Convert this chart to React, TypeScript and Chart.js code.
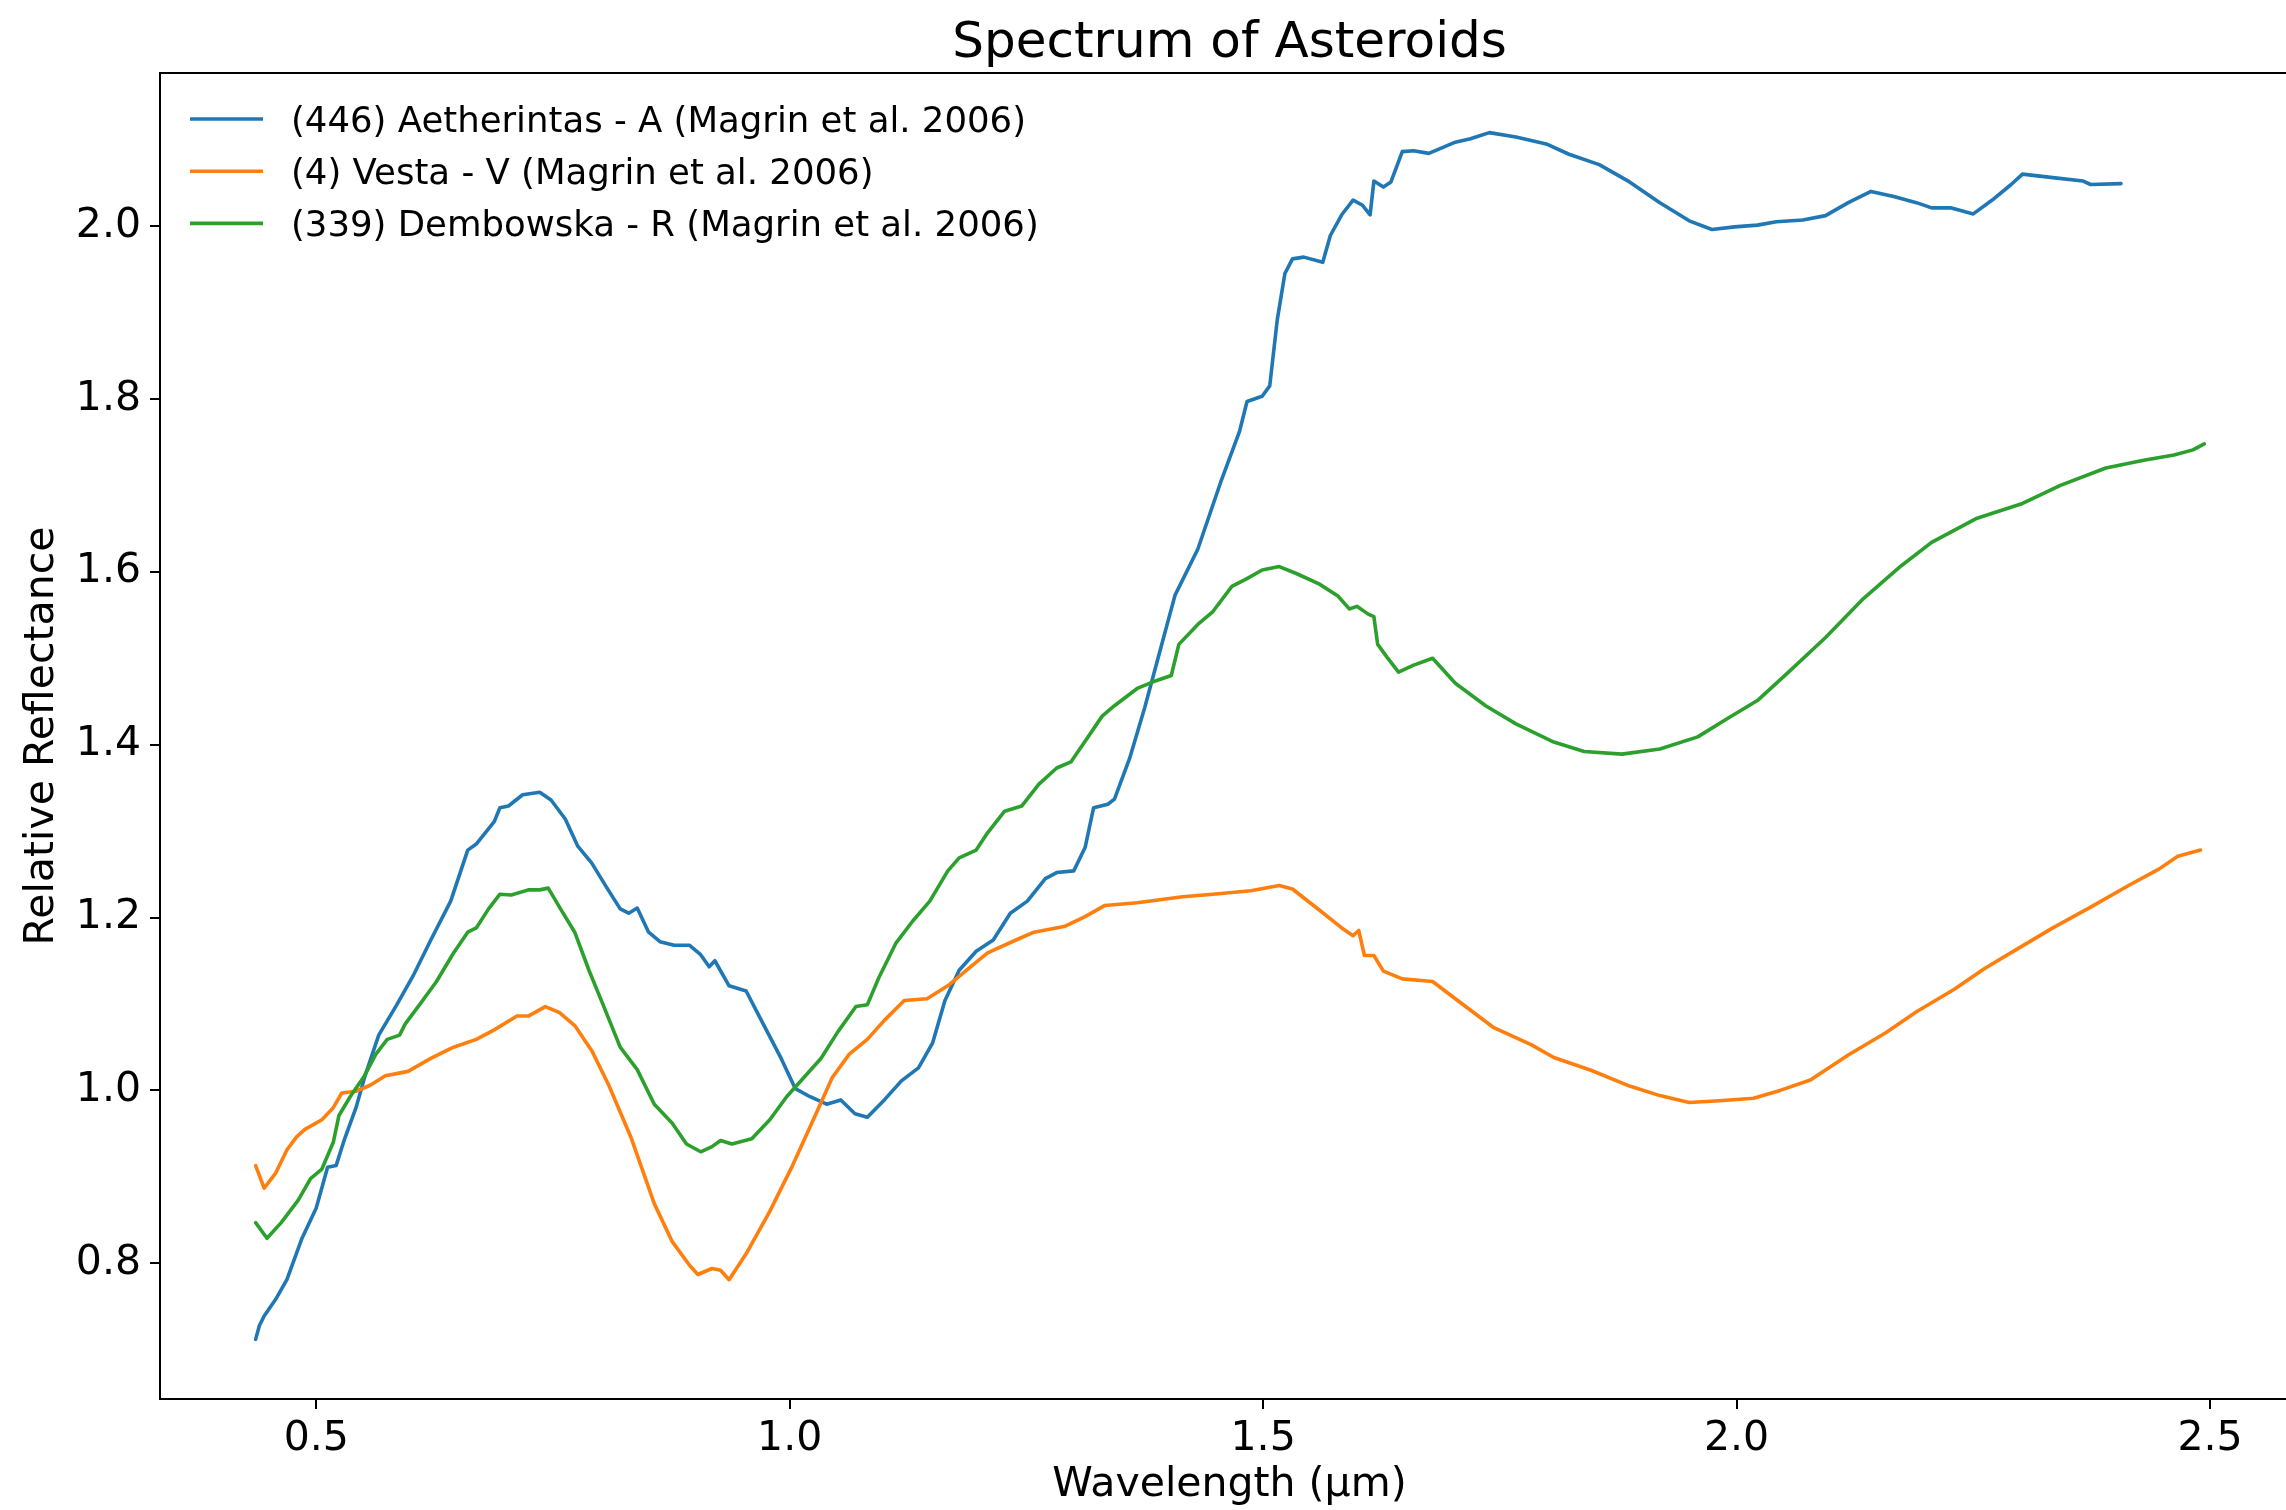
import React, { useEffect, useRef } from 'react';
import { Chart, registerables } from 'chart.js';

Chart.register(...registerables);

const FONT = "'DejaVu Sans', 'Liberation Sans', sans-serif";

const TITLE = 'Spectrum of Asteroids';
const X_LABEL = 'Wavelength (µm)';
const Y_LABEL = 'Relative Reflectance';

const xTicks = [0.5, 1.0, 1.5, 2.0, 2.5];
const yTicks = [0.8, 1.0, 1.2, 1.4, 1.6, 1.8, 2.0];

const seriesNames = [
  '(446) Aetherintas - A (Magrin et al. 2006)',
  '(4) Vesta - V (Magrin et al. 2006)',
  '(339) Dembowska - R (Magrin et al. 2006)',
];
const seriesColors = ['#1f77b4', '#ff7f0e', '#2ca02c'];

const aetherX = [
  0.436, 0.440, 0.445, 0.457, 0.469, 0.485, 0.500, 0.512, 0.521, 0.530, 0.542, 0.551, 0.566, 0.585, 0.603,
  0.621, 0.642, 0.660, 0.669, 0.688, 0.694, 0.703, 0.718, 0.736, 0.748, 0.763, 0.776, 0.791, 0.806, 0.821,
  0.830, 0.839, 0.851, 0.863, 0.878, 0.894, 0.906, 0.915, 0.921, 0.936, 0.954, 0.972, 0.991, 1.006, 1.021,
  1.039, 1.054, 1.069, 1.082, 1.100, 1.118, 1.136, 1.151, 1.164, 1.179, 1.197, 1.215, 1.233, 1.251, 1.270,
  1.282, 1.300, 1.312, 1.321, 1.336, 1.343, 1.359, 1.375, 1.391, 1.407, 1.431, 1.455, 1.475, 1.483, 1.499,
  1.507, 1.515, 1.523, 1.531, 1.543, 1.563, 1.571, 1.583, 1.595, 1.605, 1.613, 1.617, 1.627, 1.635, 1.647,
  1.659, 1.675, 1.703, 1.719, 1.739, 1.767, 1.799, 1.823, 1.855, 1.887, 1.919, 1.950, 1.974, 1.998, 2.022,
  2.042, 2.070, 2.094, 2.118, 2.142, 2.166, 2.190, 2.206, 2.226, 2.250, 2.270, 2.290, 2.302, 2.318, 2.334,
  2.366, 2.374, 2.406,
];
const aetherY = [
  0.712, 0.728, 0.739, 0.758, 0.781, 0.829, 0.864, 0.911, 0.913, 0.944, 0.980, 1.015, 1.064, 1.099, 1.134,
  1.174, 1.219, 1.278, 1.285, 1.311, 1.327, 1.329, 1.342, 1.345, 1.336, 1.314, 1.283, 1.263, 1.236, 1.210,
  1.205, 1.211, 1.183, 1.172, 1.168, 1.168, 1.157, 1.143, 1.150, 1.121, 1.115, 1.077, 1.037, 1.002, 0.993,
  0.984, 0.989, 0.973, 0.969, 0.989, 1.011, 1.026, 1.055, 1.104, 1.139, 1.161, 1.174, 1.205, 1.219, 1.245,
  1.252, 1.254, 1.281, 1.327, 1.331, 1.337, 1.384, 1.443, 1.508, 1.573, 1.626, 1.703, 1.762, 1.797, 1.803,
  1.815, 1.892, 1.945, 1.962, 1.964, 1.958, 1.989, 2.013, 2.030, 2.024, 2.013, 2.052, 2.045, 2.051, 2.086,
  2.087, 2.084, 2.097, 2.101, 2.108, 2.103, 2.095, 2.083, 2.071, 2.051, 2.027, 2.006, 1.996, 1.999, 2.001,
  2.005, 2.007, 2.012, 2.027, 2.040, 2.034, 2.027, 2.021, 2.021, 2.014, 2.030, 2.048, 2.060, 2.058, 2.056,
  2.052, 2.048, 2.049,
];

const vestaX = [
  0.436, 0.445, 0.457, 0.469, 0.479, 0.488, 0.506, 0.518, 0.527, 0.542, 0.557, 0.573, 0.597, 0.621, 0.645,
  0.669, 0.688, 0.712, 0.724, 0.742, 0.757, 0.773, 0.791, 0.809, 0.833, 0.857, 0.876, 0.894, 0.903, 0.918,
  0.927, 0.936, 0.954, 0.979, 1.003, 1.027, 1.045, 1.063, 1.082, 1.100, 1.121, 1.145, 1.167, 1.191, 1.209,
  1.239, 1.258, 1.291, 1.312, 1.333, 1.367, 1.415, 1.447, 1.487, 1.517, 1.531, 1.559, 1.583, 1.595, 1.601,
  1.607, 1.617, 1.627, 1.647, 1.679, 1.703, 1.743, 1.783, 1.807, 1.847, 1.887, 1.919, 1.950, 1.982, 2.018,
  2.046, 2.078, 2.118, 2.158, 2.190, 2.230, 2.262, 2.294, 2.334, 2.374, 2.414, 2.446, 2.466, 2.490,
];
const vestaY = [
  0.913, 0.887, 0.904, 0.931, 0.946, 0.955, 0.966, 0.980, 0.997, 0.999, 1.006, 1.017, 1.022, 1.037, 1.050,
  1.059, 1.070, 1.086, 1.086, 1.097, 1.090, 1.075, 1.046, 1.006, 0.944, 0.869, 0.825, 0.798, 0.787, 0.794,
  0.792, 0.781, 0.811, 0.860, 0.913, 0.971, 1.015, 1.042, 1.059, 1.081, 1.104, 1.106, 1.121, 1.143, 1.159,
  1.174, 1.183, 1.190, 1.201, 1.214, 1.217, 1.224, 1.227, 1.231, 1.237, 1.233, 1.209, 1.188, 1.179, 1.185,
  1.156, 1.156, 1.138, 1.129, 1.126, 1.106, 1.073, 1.053, 1.038, 1.023, 1.005, 0.994, 0.986, 0.988, 0.991,
  1.000, 1.012, 1.041, 1.067, 1.091, 1.117, 1.141, 1.162, 1.188, 1.212, 1.237, 1.256, 1.271, 1.278,
];

const dembowskaX = [
  0.436, 0.448, 0.463, 0.481, 0.494, 0.506, 0.518, 0.524, 0.536, 0.551, 0.563, 0.575, 0.588, 0.594, 0.609,
  0.627, 0.645, 0.660, 0.669, 0.682, 0.694, 0.706, 0.724, 0.736, 0.745, 0.758, 0.773, 0.788, 0.803, 0.821,
  0.839, 0.857, 0.876, 0.891, 0.906, 0.918, 0.927, 0.939, 0.960, 0.979, 0.997, 1.015, 1.033, 1.051, 1.070,
  1.082, 1.094, 1.112, 1.130, 1.148, 1.167, 1.179, 1.197, 1.209, 1.227, 1.245, 1.263, 1.282, 1.297, 1.312,
  1.330, 1.343, 1.367, 1.387, 1.403, 1.411, 1.431, 1.447, 1.467, 1.483, 1.499, 1.517, 1.535, 1.559, 1.579,
  1.591, 1.599, 1.611, 1.617, 1.621, 1.631, 1.643, 1.659, 1.679, 1.703, 1.735, 1.767, 1.807, 1.839, 1.879,
  1.919, 1.959, 1.990, 2.022, 2.054, 2.094, 2.134, 2.174, 2.206, 2.254, 2.302, 2.342, 2.390, 2.430, 2.462,
  2.482, 2.494,
];
const dembowskaY = [
  0.847, 0.829, 0.847, 0.873, 0.898, 0.909, 0.940, 0.971, 0.993, 1.017, 1.042, 1.059, 1.064, 1.077, 1.099,
  1.126, 1.159, 1.183, 1.188, 1.210, 1.227, 1.226, 1.232, 1.232, 1.234, 1.210, 1.183, 1.139, 1.099, 1.050,
  1.024, 0.984, 0.962, 0.938, 0.929, 0.935, 0.942, 0.938, 0.944, 0.966, 0.993, 1.015, 1.037, 1.068, 1.097,
  1.099, 1.130, 1.170, 1.196, 1.219, 1.254, 1.269, 1.278, 1.298, 1.323, 1.329, 1.354, 1.373, 1.380, 1.404,
  1.433, 1.445, 1.465, 1.474, 1.480, 1.516, 1.539, 1.554, 1.583, 1.592, 1.602, 1.606, 1.598, 1.586, 1.572,
  1.557, 1.560, 1.551, 1.548, 1.516, 1.501, 1.484, 1.492, 1.500, 1.471, 1.445, 1.424, 1.403, 1.392, 1.389,
  1.395, 1.409, 1.430, 1.451, 1.483, 1.524, 1.569, 1.607, 1.634, 1.662, 1.679, 1.700, 1.720, 1.729, 1.735,
  1.741, 1.748,
];

const seriesX = [aetherX, vestaX, dembowskaX];
const seriesY = [aetherY, vestaY, dembowskaY];

const CANVAS_W = 2300;
const CANVAS_H = 1510;
const LINE_W = 3.6;

const framePlugin = {
  id: 'frame',
  afterDatasetsDraw(chart: any) {
    const { ctx, chartArea } = chart;
    ctx.save();
    ctx.strokeStyle = '#000';
    ctx.lineWidth = 2;
    ctx.strokeRect(chartArea.left, chartArea.top, chartArea.right - chartArea.left, chartArea.bottom - chartArea.top);
    ctx.restore();
  },
};

const titlePlugin = {
  id: 'mplTitle',
  afterDraw(chart: any) {
    const { ctx, chartArea } = chart;
    ctx.save();
    ctx.fillStyle = '#000';
    ctx.font = `50px ${FONT}`;
    ctx.textAlign = 'center';
    ctx.textBaseline = 'alphabetic';
    ctx.fillText(TITLE, (chartArea.left + chartArea.right) / 2, 57);
    ctx.restore();
  },
};

const legendPlugin = {
  id: 'mplLegend',
  afterDraw(chart: any) {
    const { ctx } = chart;
    ctx.save();
    ctx.font = `35.5px ${FONT}`;
    ctx.textAlign = 'left';
    ctx.textBaseline = 'alphabetic';
    chart.data.datasets.forEach((ds: any, i: number) => {
      const y = 119 + i * 52.2;
      ctx.strokeStyle = ds.borderColor;
      ctx.lineWidth = LINE_W;
      ctx.beginPath();
      ctx.moveTo(190, y);
      ctx.lineTo(263, y);
      ctx.stroke();
      ctx.fillStyle = '#000';
      ctx.fillText(ds.label, 291, y + 12.7);
    });
    ctx.restore();
  },
};

export default function App() {
  const ref = useRef<HTMLCanvasElement>(null);

  useEffect(() => {
    document.body.style.margin = '0';
    const canvas = ref.current;
    if (!canvas) return;
    const datasets = seriesNames.map((name, i) => ({
      label: name,
      data: seriesX[i].map((x, j) => ({ x, y: seriesY[i][j] })),
      borderColor: seriesColors[i],
      backgroundColor: seriesColors[i],
      borderWidth: LINE_W,
      borderJoinStyle: 'round',
      borderCapStyle: 'round',
      pointRadius: 0,
      tension: 0,
      fill: false,
      order: 2 - i,
    }));
    const tickFont = { family: FONT, size: 41 };
    const chart = new Chart(canvas, {
      type: 'line',
      data: { datasets },
      options: {
        animation: false,
        responsive: false,
        devicePixelRatio: 1,
        layout: { padding: { top: 73, right: 1, left: 0, bottom: 0 } },
        plugins: {
          legend: { display: false },
          title: { display: false },
          tooltip: { enabled: false },
        },
        scales: {
          x: {
            type: 'linear',
            position: 'bottom',
            min: 0.335,
            max: 2.594,
            afterBuildTicks: (s: any) => {
              s.ticks = xTicks.map((v) => ({ value: v }));
            },
            afterFit: (s: any) => {
              s.height = 111;
            },
            ticks: {
              font: tickFont,
              color: '#000',
              padding: 6,
              maxRotation: 0,
              autoSkip: false,
              callback: (v: any) => Number(v).toFixed(1),
            },
            grid: { drawOnChartArea: false, drawTicks: true, tickLength: 10, color: '#000', lineWidth: 2 },
            border: { display: true, color: '#000', width: 2 },
            title: {
              display: true,
              text: X_LABEL,
              color: '#000',
              font: { family: FONT, size: 41 },
              padding: { top: 0, bottom: 0 },
            },
          },
          y: {
            type: 'linear',
            position: 'left',
            min: 0.643,
            max: 2.177,
            afterBuildTicks: (s: any) => {
              s.ticks = yTicks.map((v) => ({ value: v }));
            },
            afterFit: (s: any) => {
              s.width = 160;
            },
            ticks: {
              font: tickFont,
              color: '#000',
              padding: 9,
              autoSkip: false,
              callback: (v: any) => Number(v).toFixed(1),
            },
            grid: { drawOnChartArea: false, drawTicks: true, tickLength: 10, color: '#000', lineWidth: 2 },
            border: { display: true, color: '#000', width: 2 },
            title: {
              display: true,
              text: Y_LABEL,
              color: '#000',
              font: { family: FONT, size: 41 },
              padding: { top: 18, bottom: 0 },
            },
          },
        },
      },
      plugins: [framePlugin, titlePlugin, legendPlugin],
    } as any);
    return () => chart.destroy();
  }, []);

  return (
    <div
      style={{
        position: 'fixed',
        left: 0,
        top: 0,
        width: 2286,
        height: 1510,
        overflow: 'hidden',
        background: '#fff',
      }}
    >
      <canvas ref={ref} width={CANVAS_W} height={CANVAS_H} style={{ display: 'block', width: CANVAS_W, height: CANVAS_H }} />
    </div>
  );
}
